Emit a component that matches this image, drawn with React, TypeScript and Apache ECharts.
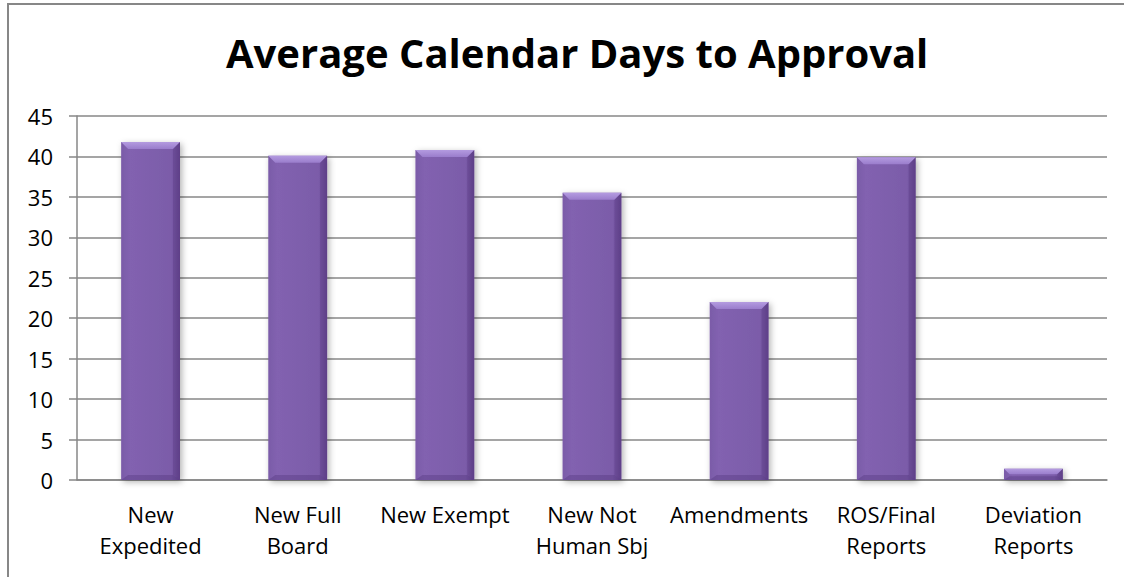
import React, { useEffect, useRef } from "react";
import * as echarts from "echarts";

const title = "Average Calendar Days to Approval";
const categories = [
  "New\nExpedited",
  "New Full\nBoard",
  "New Exempt",
  "New Not\nHuman Sbj",
  "Amendments",
  "ROS/Final\nReports",
  "Deviation\nReports",
];
const values = [41.8, 40.1, 40.8, 35.5, 22.0, 39.9, 1.4];
const yMin = 0;
const yMax = 45;
const yStep = 5;

export default function App() {
  const ref = useRef<HTMLDivElement>(null);
  useEffect(() => {
    document.body.style.margin = "0";
    document.documentElement.style.overflow = "hidden";
    document.body.style.overflow = "hidden";
    const chart = echarts.init(ref.current!, null, { renderer: "svg" });
    const font = "'Open Sans', Lato, sans-serif";
    chart.setOption({
      animation: false,
      backgroundColor: "#ffffff",
      title: {
        text: title,
        left: 221,
        top: 27,
        textStyle: { fontFamily: font, fontWeight: "bold", fontSize: 40, color: "#000" },
      },
      graphic: [
        {
          type: "polyline",
          shape: { points: [[8, 600], [8, 4], [1140, 4]] },
          style: { stroke: "#878787", lineWidth: 2, fill: "none" },
          silent: true,
        },
      ],
      grid: { left: 77, right: 17, top: 116, bottom: 97 },
      xAxis: {
        type: "category",
        data: categories,
        axisLine: { lineStyle: { color: "#878787", width: 1.5 } },
        axisTick: { length: 8, lineStyle: { color: "#878787", width: 1.5 } },
        axisLabel: {
          fontFamily: font,
          fontSize: 22,
          color: "#000",
          lineHeight: 31,
          margin: 18,
          interval: 0,
        },
      },
      yAxis: {
        type: "value",
        min: yMin,
        max: yMax,
        interval: yStep,
        axisLine: { show: true, lineStyle: { color: "#878787", width: 1.5 } },
        axisTick: { show: true, length: 8, lineStyle: { color: "#878787", width: 1.5 } },
        splitLine: { lineStyle: { color: "#878787", width: 1.5 } },
        axisLabel: { fontFamily: font, fontSize: 22, color: "#000", margin: 24 },
      },
      series: [
        {
          type: "bar",
          data: values,
          barWidth: "40%",
          itemStyle: {
            color: new echarts.graphic.LinearGradient(0, 0, 1, 0, [
              { offset: 0, color: "#7a5ba8" },
              { offset: 0.15, color: "#8262b0" },
              { offset: 0.85, color: "#7b5ca9" },
              { offset: 1, color: "#664890" },
            ]),
            shadowBlur: 6,
            shadowColor: "rgba(0,0,0,0.3)",
            shadowOffsetX: 2,
            shadowOffsetY: 2,
          },
          z: 2,
        },
        {
          type: "custom",
          z: 3,
          data: values.map((v, i) => [i, v]),
          renderItem: (params: any, api: any) => {
            const top = api.coord([api.value(0), api.value(1)]);
            const base = api.coord([api.value(0), 0]);
            const w = api.size([1, 0])[0] * 0.4;
            const x0 = top[0] - w / 2;
            const x1 = top[0] + w / 2;
            const y0 = top[1];
            const y1 = base[1];
            const h = y1 - y0;
            const b = Math.min(7, h / 2);
            const bb = Math.min(5, h / 3);
            return {
              type: "group",
              children: [
                {
                  type: "polygon",
                  shape: { points: [[x0, y0], [x1, y0], [x1 - b, y0 + b], [x0 + b, y0 + b]] },
                  style: {
                    fill: new echarts.graphic.LinearGradient(0, 0, 0, 1, [
                      { offset: 0, color: "#b49be0" },
                      { offset: 1, color: "#9a7dcc" },
                    ]),
                  },
                },
                {
                  type: "polygon",
                  shape: { points: [[x1, y0], [x1, y1], [x1 - b, y1 - bb], [x1 - b, y0 + b]] },
                  style: { fill: "rgba(60,30,100,0.18)" },
                },
                {
                  type: "polygon",
                  shape: { points: [[x0, y1], [x1, y1], [x1 - b, y1 - bb], [x0 + b, y1 - bb]] },
                  style: { fill: "rgba(60,30,100,0.25)" },
                },
              ],
            };
          },
        },
      ],
    });
    return () => chart.dispose();
  }, []);
  return <div ref={ref} style={{ width: 1124, height: 577 }} />;
}
